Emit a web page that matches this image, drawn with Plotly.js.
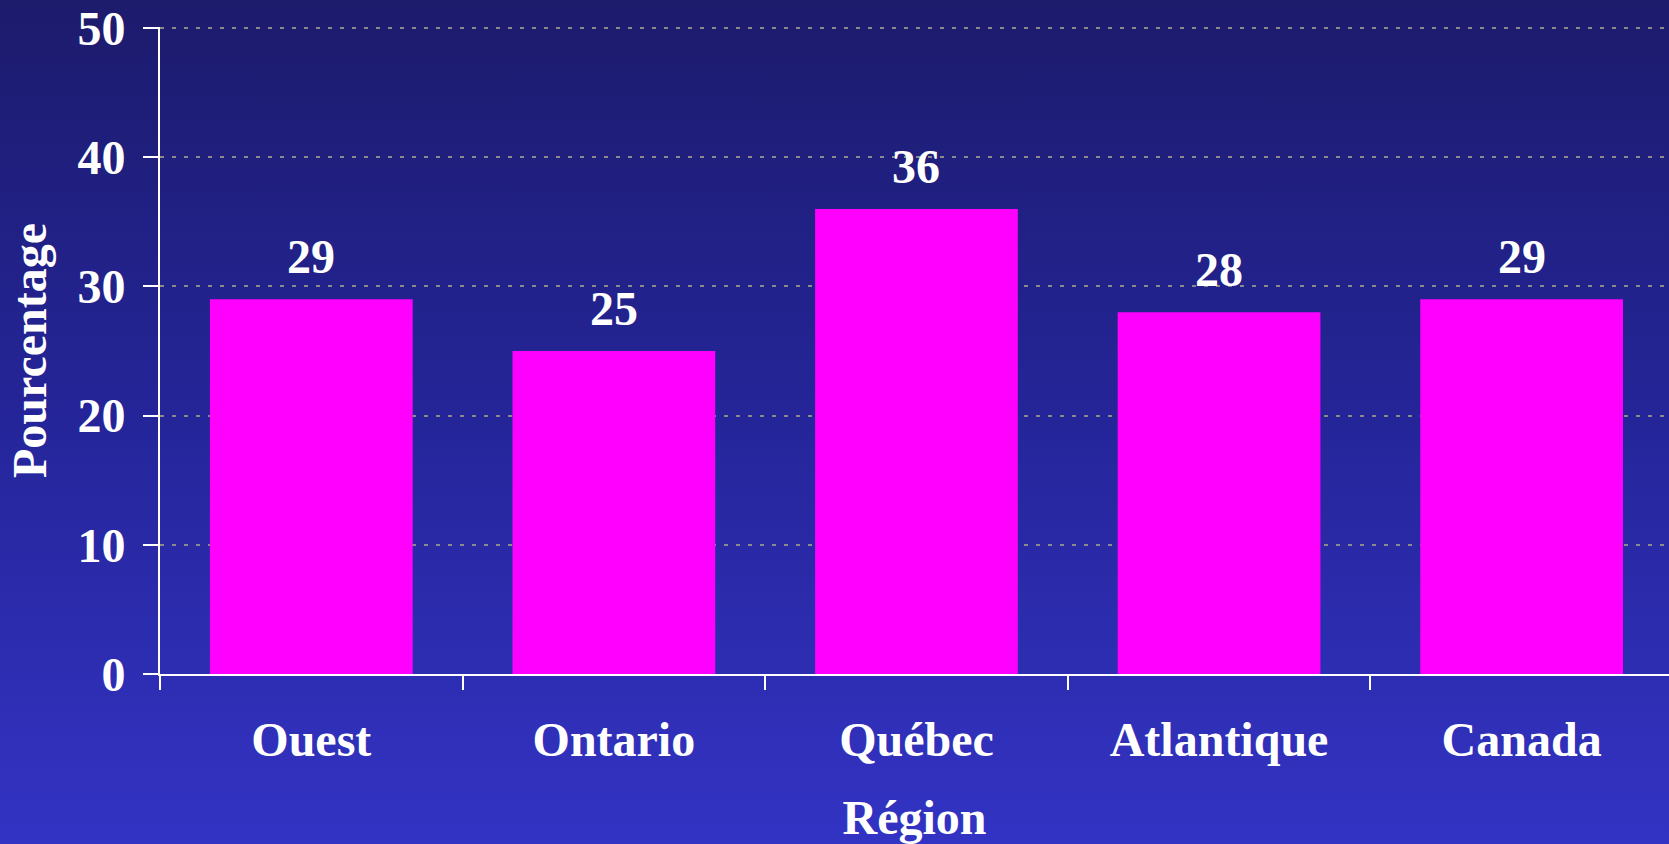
<!DOCTYPE html>
<html>
<head>
<meta charset="utf-8">
<script src="https://cdn.plot.ly/plotly-3.0.1.min.js"></script>
<style>
html, body { margin:0; padding:0; }
body { background: linear-gradient(to bottom, #1c1b6c 0%, #25259a 50%, #3333c4 100%); width:1669px; height:844px; overflow:hidden; }
#chart { width:1669px; height:844px; }
</style>
</head>
<body>
<div id="chart"></div>
<script>
const categories = ["Ouest", "Ontario", "Québec", "Atlantique", "Canada"];
const values = [29, 25, 36, 28, 29];
const yTickValues = [0, 10, 20, 30, 40, 50];

const FONT = "Liberation Serif, Times New Roman, serif";
const fsz = 48;

const trace = {
  type: "bar",
  x: categories,
  y: values,
  marker: { color: "#ff00ff", line: { width: 0 } },
  hoverinfo: "skip"
};

const annotations = categories.map((c, i) => ({
  x: c, y: values[i], xref: "x", yref: "y",
  text: String(values[i]),
  showarrow: false, yanchor: "bottom", yshift: 14,
  font: { family: FONT, size: fsz, color: "#ffffff", weight: "bold" }
}));

const layout = {
  width: 1669, height: 844,
  margin: { l: 160, r: 0, t: 27, b: 170 },
  paper_bgcolor: "rgba(0,0,0,0)",
  plot_bgcolor: "rgba(0,0,0,0)",
  bargap: 0.33,
  showlegend: false,
  font: { family: FONT, size: fsz, color: "#ffffff", weight: "bold" },
  xaxis: {
    type: "category",
    range: [-0.5, 4.487],
    tickson: "boundaries",
    ticks: "outside", ticklen: 14, tickwidth: 2, tickcolor: "#ffffff",
    showline: true, linecolor: "#ffffff", linewidth: 2,
    showgrid: false, zeroline: false,
    tickfont: { family: FONT, size: fsz, color: "#ffffff", weight: "bold" },
    ticklabelstandoff: 22,
    title: { text: "Région", standoff: 42, font: { family: FONT, size: fsz, color: "#ffffff", weight: "bold" } }
  },
  yaxis: {
    range: [0, 50.08],
    tickvals: yTickValues,
    ticktext: yTickValues.map(String),
    ticks: "outside", ticklen: 15, tickwidth: 2, tickcolor: "#ffffff",
    showline: true, linecolor: "#ffffff", linewidth: 2,
    showgrid: true, gridcolor: "#8a8a8a", gridwidth: 2, griddash: "4px,8px",
    zeroline: false,
    tickfont: { family: FONT, size: fsz, color: "#ffffff", weight: "bold" },
    ticklabelstandoff: 8,
    title: { text: "Pourcentage", standoff: 16, font: { family: FONT, size: fsz, color: "#ffffff", weight: "bold" } }
  },
  annotations: annotations
};

Plotly.newPlot("chart", [trace], layout, { displayModeBar: false, staticPlot: true });
</script>
</body>
</html>
